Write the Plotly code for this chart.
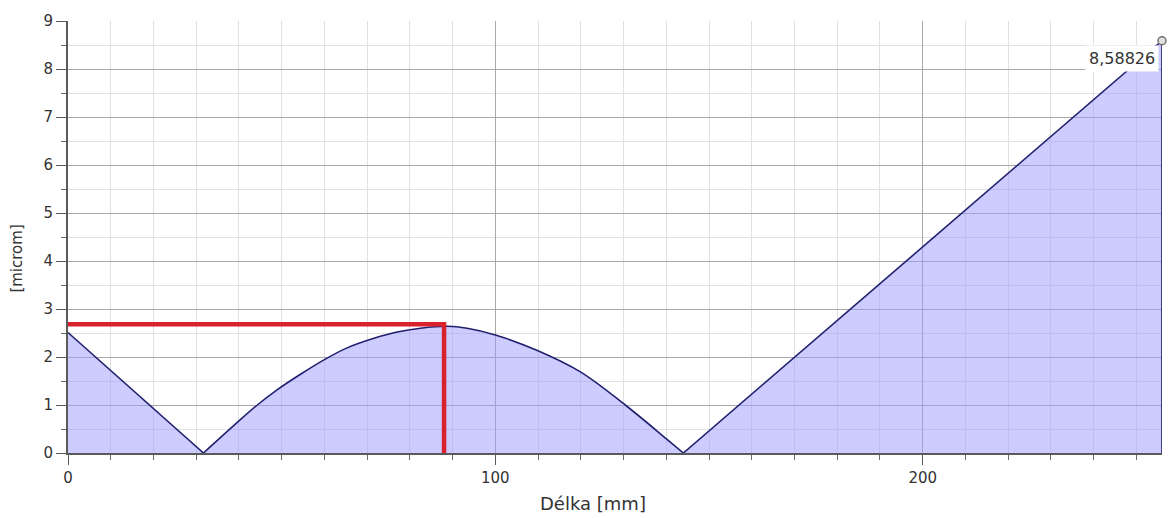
import plotly.graph_objects as go

# ---- data ----
x_mm = [0, 31.7, 38.9, 44.3, 49.0, 54.4, 59.9, 65.3, 71.6, 77.0, 82.5, 88.7,
        93.4, 100.0, 109.7, 119.9, 130.4, 140.1, 144.0, 256.0]
y_um = [2.51, 0.0, 0.58, 1.00, 1.32, 1.64, 1.94, 2.19, 2.39, 2.52, 2.60, 2.64,
        2.60, 2.46, 2.14, 1.69, 1.00, 0.29, 0.0, 8.58826]

red_pos = 88.0      # mm
red_level = 2.68    # microm

end_label = "8,58826"
x_ticks = [0, 100, 200]
y_ticks = [0, 1, 2, 3, 4, 5, 6, 7, 8, 9]

FONT = "DejaVu Sans"
LINE = "#20206e"
FILL = "rgba(153,153,255,0.5)"

fig = go.Figure()

# split the profile at its zero points: straight flanks, smooth arch
zeros = [i for i, v in enumerate(y_um) if v == 0]
segments = [(0, zeros[0], "linear"),
            (zeros[0], zeros[1], "spline"),
            (zeros[1], len(x_mm) - 1, "linear")]
for a, b, shape in segments:
    fig.add_trace(go.Scatter(
        x=x_mm[a:b + 1], y=y_um[a:b + 1], mode="lines", fill="tozeroy",
        fillcolor=FILL, line=dict(color=LINE, width=1.6, shape=shape,
                                  smoothing=1.0),
        hoverinfo="x+y", showlegend=False))

# closing edge of the area at the last sample
fig.add_trace(go.Scatter(
    x=[x_mm[-1], x_mm[-1]], y=[0, y_um[-1]], mode="lines",
    line=dict(color=LINE, width=1.6), hoverinfo="skip", showlegend=False))

# red marker lines
fig.add_trace(go.Scatter(
    x=[x_mm[0], red_pos, red_pos], y=[red_level, red_level, 0], mode="lines",
    line=dict(color="rgb(218,34,44)", width=4.5), hoverinfo="skip",
    showlegend=False))

# end point marker
fig.add_trace(go.Scatter(
    x=[x_mm[-1]], y=[y_um[-1]], mode="markers",
    marker=dict(symbol="circle", size=8, color="#e0e0e0",
                line=dict(color="#707070", width=1.5)),
    hoverinfo="skip", showlegend=False, cliponaxis=False))

axis_common = dict(
    showline=True, linecolor="#5a5a5a", linewidth=2,
    ticks="outside", tickcolor="#5a5a5a", ticklen=10, tickwidth=1,
    showgrid=True, gridcolor="#a9a9a9", gridwidth=1,
    zeroline=False,
    tickfont=dict(family=FONT, size=15, color="#333333"),
)

fig.update_xaxes(
    **axis_common, range=[0, x_mm[-1]], tickmode="array",
    tickvals=x_ticks, ticktext=[str(v) for v in x_ticks],
    minor=dict(dtick=10, tick0=0, ticks="outside", ticklen=5,
               tickcolor="#6a6a6a", showgrid=True, gridcolor="#e0e0e0"))
fig.update_yaxes(
    **axis_common, range=[0, 9], tickmode="array",
    tickvals=y_ticks, ticktext=[str(v) for v in y_ticks],
    minor=dict(dtick=0.5, tick0=0, ticks="outside", ticklen=5,
               tickcolor="#6a6a6a", showgrid=True, gridcolor="#e0e0e0"))

fig.update_layout(
    width=1168, height=518,
    margin=dict(l=68, r=6, t=21, b=65),
    plot_bgcolor="white", paper_bgcolor="white",
    font=dict(family=FONT, color="#333333"),
    annotations=[
        dict(text=end_label, x=x_mm[-1], y=y_um[-1], xref="x", yref="y",
             xanchor="right", yanchor="top", showarrow=False,
             xshift=-3, yshift=-4, bgcolor="white", borderpad=3,
             font=dict(family=FONT, size=16, color="#333333")),
        dict(text="Délka [mm]", x=0.48, y=0, xref="paper", yref="paper",
             xanchor="center", yanchor="middle", yshift=-50, showarrow=False,
             font=dict(family=FONT, size=18, color="#333333")),
        dict(text="[microm]", x=0, y=0.45, xref="paper", yref="paper",
             xanchor="center", yanchor="middle", xshift=-51, textangle=-90,
             showarrow=False,
             font=dict(family=FONT, size=15, color="#333333")),
    ],
)

fig.write_html("out.html")
